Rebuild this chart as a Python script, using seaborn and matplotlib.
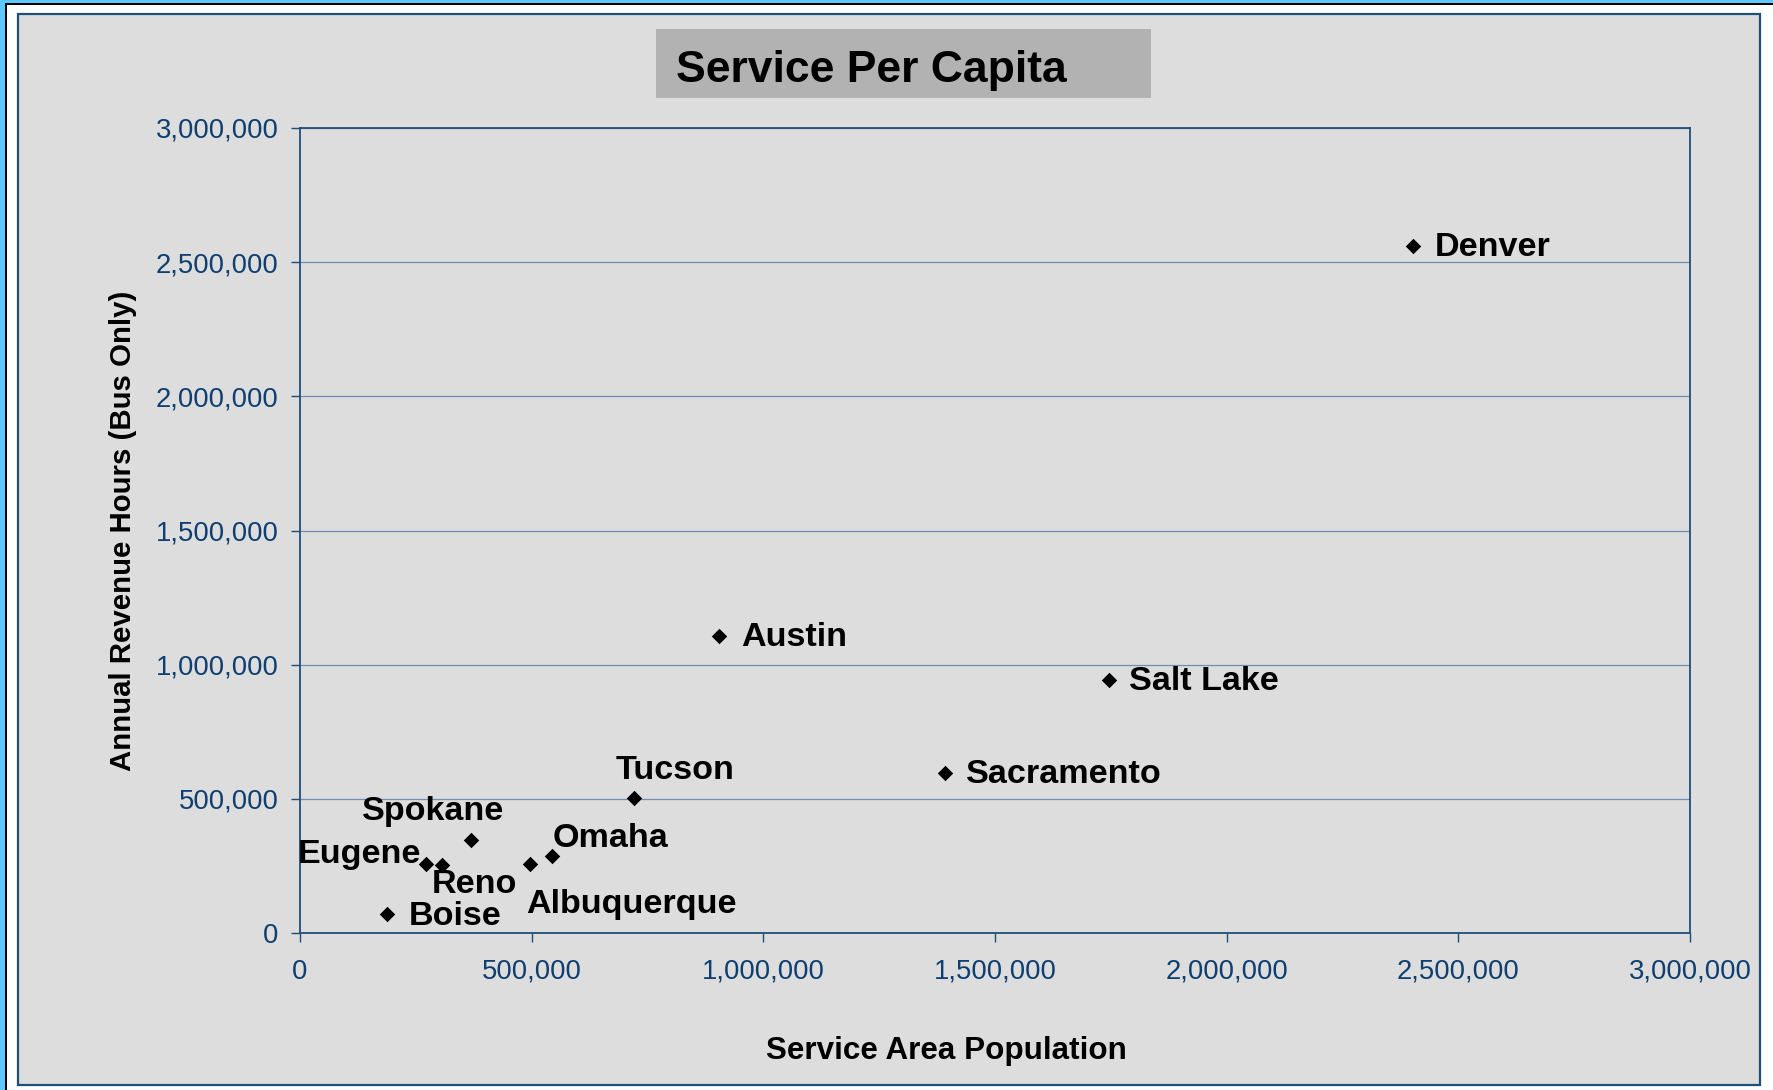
import matplotlib
matplotlib.use("Agg")
import matplotlib.pyplot as plt
from matplotlib.patches import Rectangle
from matplotlib.ticker import FuncFormatter, MultipleLocator
import seaborn as sns
import pandas as pd

# ---- data ----
cities = ["Denver", "Austin", "Salt Lake", "Sacramento", "Tucson", "Spokane",
          "Omaha", "Albuquerque", "Eugene", "Reno", "Boise"]
population = [2402000, 905000, 1746000, 1393000, 721000, 369000,
              543000, 497000, 273000, 306000, 187000]
revenue_hours = [2562000, 1106000, 942000, 597000, 504000, 347000,
                 288000, 257000, 257000, 252000, 72000]

title = "Service Per Capita"
x_label = "Service Area Population"
y_label = "Annual Revenue Hours (Bus Only)"

# label placement (offset pixels, horizontal alignment)
label_style = {
    "Denver": (22, -1.5, "left"),
    "Austin": (22, -1.5, "left"),
    "Salt Lake": (20, -1.5, "left"),
    "Sacramento": (21, -1.5, "left"),
    "Tucson": (41, 27.5, "center"),
    "Spokane": (-38, 28.5, "center"),
    "Omaha": (1, 17, "left"),
    "Albuquerque": (-4, -40.5, "left"),
    "Eugene": (-5, 9.5, "right"),
    "Reno": (-10, -19.5, "left"),
    "Boise": (22, -2.5, "left"),
}

df = pd.DataFrame({"city": cities, "pop": population, "hours": revenue_hours})

sns.set_style("white")
plt.rcParams["font.family"] = ["Liberation Sans", "DejaVu Sans"]

W, H = 1773, 1090
fig = plt.figure(figsize=(W / 100, H / 100), dpi=100, facecolor="white")

# frame decorations
fig.patches.append(Rectangle((0, 0), 5 / W, 1, transform=fig.transFigure,
                             facecolor="#5CC8FF", edgecolor="none", zorder=-3))
fig.patches.append(Rectangle((0, 1 - 3 / H), 1, 3 / H, transform=fig.transFigure,
                             facecolor="#5CC8FF", edgecolor="none", zorder=-3))
fig.patches.append(Rectangle((5 / W, 0), 2.2 / W, 1 - 3 / H, transform=fig.transFigure,
                             facecolor="black", edgecolor="none", zorder=-3))
fig.patches.append(Rectangle((5 / W, 1 - 4.8 / H), 1 - 5 / W, 1.8 / H, transform=fig.transFigure,
                             facecolor="black", edgecolor="none", zorder=-3))
fig.patches.append(Rectangle((18 / W, 1 - 1085 / H), (1760 - 18) / W, (1085 - 14) / H,
                             transform=fig.transFigure, facecolor="#DDDDDD",
                             edgecolor="#1F4E79", linewidth=1.6, zorder=-2))
# title box
fig.patches.append(Rectangle((656 / W, 1 - 98 / H), (1151 - 656) / W, 69 / H,
                             transform=fig.transFigure, facecolor="#B2B2B2",
                             edgecolor="none", zorder=1))
fig.text(676 / W, 1 - 82 / H, title, fontsize=32, fontweight="bold",
         ha="left", va="baseline", color="black", zorder=2)

ax = fig.add_axes([300 / W, 1 - 933 / H, (1690 - 300) / W, (933 - 128) / H])
ax.set_facecolor("#DDDDDD")

sns.scatterplot(data=df, x="pop", y="hours", marker="D", color="black", s=62,
                linewidth=0, ax=ax, zorder=3)

for c, x, y in zip(cities, population, revenue_hours):
    dx, dy, ha = label_style[c]
    ax.annotate(c, (x, y), xytext=(dx, dy), textcoords="offset pixels",
                ha=ha, va="center", fontsize=24.6, fontweight="bold",
                color="black", zorder=4)

ax.set_xlim(0, 3000000)
ax.set_ylim(0, 3000000)
ax.xaxis.set_major_locator(MultipleLocator(500000))
ax.yaxis.set_major_locator(MultipleLocator(500000))
fmt = FuncFormatter(lambda v, p: f"{v:,.0f}")
ax.xaxis.set_major_formatter(fmt)
ax.yaxis.set_major_formatter(fmt)

tick_color = "#0E3F70"
ax.tick_params(axis="both", which="major", direction="out", length=6.5, width=1.0,
               color="#1F4E79", labelsize=19.8, labelcolor=tick_color)
ax.tick_params(axis="y", pad=9)
ax.tick_params(axis="x", pad=12)
ax.tick_params(left=True, bottom=True)

ax.grid(axis="y", color="#6F8DB5", linewidth=0.9)
ax.grid(axis="x", visible=False)
ax.set_axisbelow(True)
for s in ax.spines.values():
    s.set_visible(True)
    s.set_color("#1F4E79")
    s.set_linewidth(1.3)

ax.set_xlabel(x_label, fontsize=22.6, fontweight="bold", color="black")
ax.set_ylabel(y_label, fontsize=21.2, fontweight="bold", color="black")
ax.xaxis.set_label_coords(0.465, -0.1275)
ax.yaxis.set_label_coords(-0.117, 0.5)

fig.savefig("out.png", dpi=100, facecolor=fig.get_facecolor())
